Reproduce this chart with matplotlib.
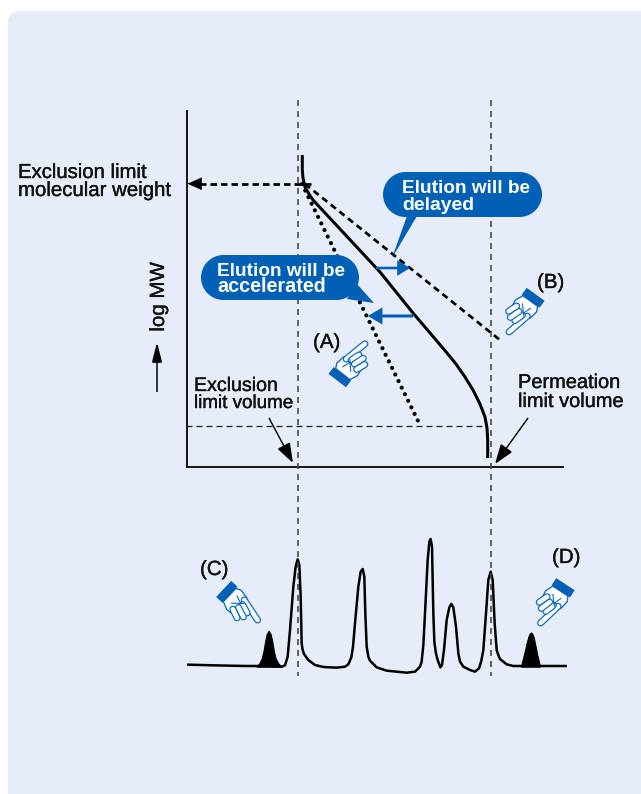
import numpy as np
import matplotlib
matplotlib.use('Agg')
import matplotlib.pyplot as plt
from matplotlib.patches import FancyArrowPatch, Polygon, Circle, Rectangle
from matplotlib.transforms import Affine2D
import matplotlib.patheffects as pe

W, H, DPI = 641, 794, 100
PX = 72 / DPI
plt.rcParams['font.family'] = ['Liberation Sans', 'DejaVu Sans']
plt.rcParams['lines.scale_dashes'] = False

PANEL = '#E6ECF8'
BLUE = '#0060B6'
HAND_BLUE = '#0A66C2'
INK = '#111111'

# calibration curve (log MW against elution volume)
curve_x = [302.3, 302.3, 303, 305, 309, 313, 340, 380, 413, 436, 447, 456, 465, 473, 480, 485, 487, 487.7, 487.7]
curve_y = [155, 170, 178, 187, 194, 200, 229, 272, 313, 340, 353, 364, 377, 390, 404, 417, 428, 440, 458]
limit_a = ([302, 420], [184, 425])
limit_b = ([305, 500], [184, 340])

# chromatogram trace
chrom_x = [25, 100, 200, 230, 305, 315, 323, 330, 340, 347, 353, 358, 362, 365, 368, 372, 385, 405, 430, 470, 495,
           505, 514, 519, 525, 535, 542, 548, 553, 556, 560, 565, 570, 590, 620, 680, 705, 720, 725, 730, 735, 743, 748, 752,
           756, 760, 763, 767, 772, 781, 786, 792, 800, 808, 814, 820, 828, 835, 840, 850, 870, 885, 897, 904, 910, 918, 925,
           932, 938, 944, 950, 955, 960, 980, 1000, 1025, 1157]
chrom_y = [404, 406, 408, 408, 410, 406, 380, 300, 170, 110, 88, 105, 200, 340, 360, 372, 390, 405, 411, 413, 410,
           403, 382, 350, 280, 170, 125, 117, 140, 250, 350, 380, 392, 412, 422, 428, 425, 410, 395, 345, 250, 90, 35, 27,
           50, 250, 335, 365, 387, 412, 405, 360, 270, 232, 222, 232, 290, 370, 395, 410, 420, 425, 415, 392, 360, 250, 150,
           125, 150, 280, 360, 375, 387, 403, 408, 408, 408]
peak_c_x = [230, 238, 245, 250, 255, 260, 266, 272, 277, 282, 287, 295, 305]
peak_c_y = [408, 400, 385, 365, 335, 312, 302, 312, 335, 365, 385, 400, 410]
peak_d_x = [1023, 1030, 1035, 1040, 1045, 1049, 1053, 1058, 1062, 1067, 1072, 1080]
peak_d_y = [408, 380, 360, 338, 320, 311, 307, 313, 325, 350, 375, 408]

# hand glyph outlines, local coordinates: u towards fingertip, v towards curled fingers
hand_cuff = [(-4.5, -11), (4, -11), (4, 11), (-4.5, 11)]
hand_palm = [(4, -8.5), (9, -11), (18, -9.5), (23, -5), (22, 3), (20, 12), (12, 13), (4, 9.5)]
hand_index = ((18, -6), (41.5, -0.5))
hand_curled = [((20, -1.5), (29, 1.5)), ((19, 3.5), (29, 7)), ((16, 8.5), (25, 12))]
hand_creases = [((10, -4), (18, -1)), ((11, 5), (20, -3))]
# cuff centre, fingertip
hands = {'A': ((340, 377), (367, 342)), 'B': ((533, 298), (507, 334)),
         'C': ((227, 592), (260, 623)), 'D': ((563, 588), (540, 623))}

fig = plt.figure(figsize=(W / DPI, H / DPI), dpi=DPI, facecolor='white')
bg = fig.add_axes([0, 0, 1, 1], zorder=0)
bg.set_xlim(0, W); bg.set_ylim(H, 0); bg.axis('off')
R = 11
bg.add_patch(Rectangle((8 + R, 11), W, H, fc=PANEL, ec='none'))
bg.add_patch(Rectangle((8, 11 + R), W, H, fc=PANEL, ec='none'))
bg.add_patch(Circle((8 + R, 11 + R), R, fc=PANEL, ec='none'))

# chromatogram in its own axes
ch = fig.add_axes([180 / W, 1 - 680 / H, 400 / W, 150 / H], zorder=1)
ch.set_xlim(0, 1200); ch.set_ylim(450, 0); ch.axis('off')
ch.fill_between(peak_c_x, peak_c_y, 410, color='black', lw=1 * PX)
ch.fill_between(peak_d_x, peak_d_y, 410, color='black', lw=1 * PX)
ch.plot(chrom_x, chrom_y, color='black', lw=2.5 * PX, solid_joinstyle='round')

ax = fig.add_axes([0, 0, 1, 1], zorder=2)
ax.set_xlim(0, W); ax.set_ylim(H, 0); ax.axis('off'); ax.patch.set_alpha(0)


def arrow(x0, y0, x1, y1, lw, L, Wd, color=INK, z=5):
    ax.add_patch(FancyArrowPatch((x0, y0), (x1, y1), shrinkA=0, shrinkB=0, mutation_scale=1,
                                 arrowstyle=f'-|>,head_length={L * PX},head_width={Wd / 2 * PX}',
                                 lw=lw * PX, color=color, joinstyle='miter', capstyle='butt', zorder=z))


def txt(x, y, s, size, color=INK, weight='normal', stroke=0.25, **kw):
    t = ax.text(x, y, s, fontsize=size * PX, color=color, weight=weight, va='baseline', zorder=8, **kw)
    if stroke:
        t.set_path_effects([pe.withStroke(linewidth=stroke, foreground=color)])
    return t


# axes lines
ax.plot([186.5, 186.5, 563], [111, 467, 467], color='#1a1a1a', lw=2.0 * PX, solid_joinstyle='miter')

# guide lines
for gx in (298, 491):
    ax.plot([gx, gx], [100, 676], color='#444444', lw=1.6 * PX, ls=(0, (6 * PX, 5 * PX)), zorder=3)
ax.plot([186, 487], [425.5, 425.5], color='#222222', lw=1.3 * PX, ls=(0, (6 * PX, 4 * PX)), zorder=2)

# dashed arrow to the exclusion limit MW
ax.plot([311, 197], [183.7, 183.7], color='black', lw=2.7 * PX, ls=(0, (6.5 * PX, 4 * PX)), zorder=3)
arrow(202, 183.7, 187.5, 183.7, 0.5, 13.5, 12, 'black')

# variants of the calibration line
ax.plot(*limit_b, color='black', lw=2.7 * PX, ls=(0, (6.5 * PX, 4.5 * PX)), zorder=3)
ax.plot(*limit_a, color='black', lw=4.2 * PX, ls=(0, (0.01, 7.3 * PX)), dash_capstyle='round', zorder=3)
ax.plot(curve_x, curve_y, color='black', lw=3.0 * PX, solid_joinstyle='round', solid_capstyle='butt', zorder=4)

# speech bubbles
for (x0, y0, x1, y1), tail in (((383, 172, 542, 217), [(407, 216), (417, 216), (392, 258)]),
                               ((201, 255, 359, 300), [(357, 284), (347, 299), (374, 303)])):
    r = (y1 - y0) / 2
    ax.add_patch(Polygon(tail, closed=True, fc=BLUE, ec='none', zorder=6))
    ax.add_patch(Rectangle((x0 + r, y0), x1 - x0 - 2 * r, y1 - y0, fc=BLUE, ec='none', zorder=6))
    for cx in (x0 + r, x1 - r):
        ax.add_patch(Circle((cx, y0 + r), r, fc=BLUE, ec='none', zorder=6))
txt(402, 193, 'Elution will be', 19.0, 'white', 'bold', 0)
txt(402, 209.5, 'delayed', 19.4, 'white', 'bold', 0)
txt(217, 275.5, 'Elution will be', 19.0, 'white', 'bold', 0)
txt(217, 292.5, 'accelerated', 19.8, 'white', 'bold', 0)

# blue arrows
arrow(376, 268, 410, 268, 2.6, 9, 11, BLUE, 7)
arrow(413, 316, 368, 316, 3.0, 10, 12, BLUE, 7)

# thin callout arrows
arrow(269, 418, 293, 463, 1.4, 17, 12, 'black')
arrow(528, 418, 495, 464, 1.4, 17, 12, 'black')

# hands
for (cx, cy), (tx, ty) in hands.values():
    theta = np.arctan2(ty - cy, tx - cx)
    tr = Affine2D().rotate(theta).translate(cx, cy) + ax.transData
    ax.add_patch(Polygon(hand_palm, closed=True, fc='white', ec=HAND_BLUE, lw=1.3 * PX, transform=tr, zorder=6.1))
    for a, b in [hand_index] + hand_curled:
        ax.plot([a[0], b[0]], [a[1], b[1]], color=HAND_BLUE, lw=7 * PX, solid_capstyle='round', transform=tr, zorder=6.2)
        ax.plot([a[0], b[0]], [a[1], b[1]], color='white', lw=4.6 * PX, solid_capstyle='round', transform=tr, zorder=6.2)
    for a, b in hand_creases:
        ax.plot([a[0], b[0]], [a[1], b[1]], color=HAND_BLUE, lw=1.1 * PX, transform=tr, zorder=6.5)
    ax.add_patch(Polygon(hand_cuff, closed=True, fc=BLUE, ec='none', transform=tr, zorder=6.6))

# labels
txt(18, 178, 'Exclusion limit', 20.3)
txt(18, 196, 'molecular weight', 20.4)
txt(194, 391, 'Exclusion', 19.6)
txt(194, 408, 'limit volume', 18.8)
txt(518, 388, 'Permeation', 20)
txt(518, 407, 'limit volume', 20)
txt(313, 348, '(A)', 20.5)
txt(537, 288, '(B)', 20.5)
txt(200, 575, '(C)', 20.5)
txt(552, 563, '(D)', 20.5)
txt(164, 297, 'log MW', 20.5, rotation=90, ha='center', rotation_mode='anchor')
arrow(157, 392, 157, 342, 1.5, 17, 8.5, 'black')

fig.savefig('out.png', dpi=DPI, facecolor='white')
